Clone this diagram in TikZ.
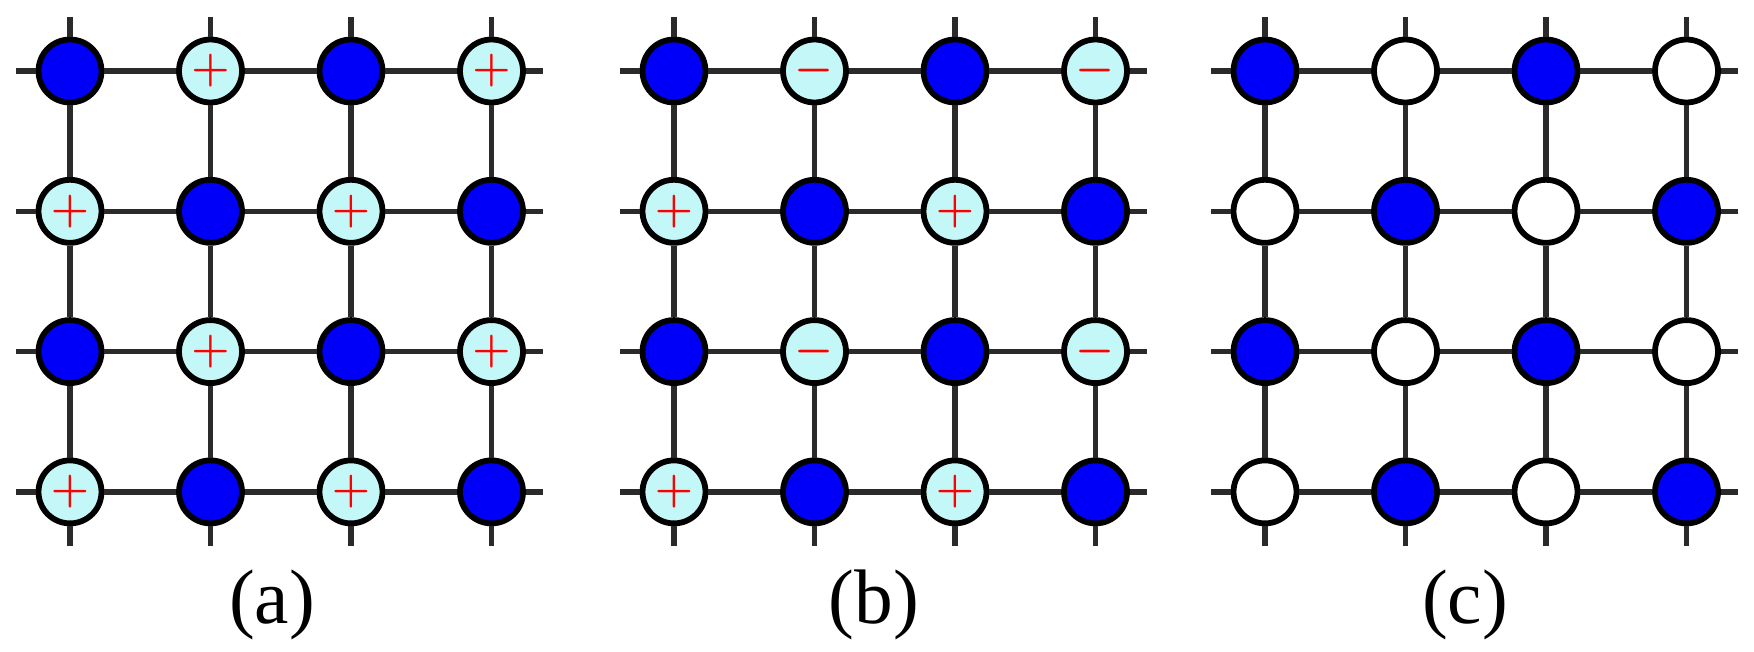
\documentclass[tikz,border=0pt]{standalone}
\usepackage{fontspec}
\setmainfont{Liberation Serif}
\definecolor{siteblue}{RGB}{0,0,250}
\definecolor{sitecyan}{RGB}{196,248,248}
\definecolor{bondgray}{RGB}{42,42,42}
\tikzset{
  site/.style={circle, draw=black, line width=3.3pt, minimum size=1.26cm, inner sep=0pt},
  fullsite/.style={site, fill=siteblue},
  emptysite/.style={site, fill=white},
  chargesite/.style={site, fill=sitecyan, text=red,
                     font=\fontsize{27}{27}\selectfont\boldmath},
  bond/.style={draw=bondgray, line width=3pt},
  caption/.style={font=\fontsize{44}{50}\selectfont}
}

\begin{document}
\begin{tikzpicture}[x=0.02cm, y=-0.02cm]
  \useasboundingbox (0,0) rectangle (1754,652);

  % lattice sites, one panel at a time
  \foreach \p/\x/\kind/\evensign/\oddsign in
      {a/70/chargesite/+/+, b/674/chargesite/-/+, c/1265/emptysite/{}/{}} {
    \foreach \i in {0,...,3} {
      \foreach \j in {0,...,3} {
        \pgfmathtruncatemacro{\odd}{mod(\i+\j,2)}
        \ifodd\j \def\sign{\oddsign}\else \def\sign{\evensign}\fi
        \ifnum\odd=0
          \node[fullsite] (\p-\i-\j) at ({\x+140.5*\i},{71+140.3*\j}) {};
        \else
          \node[\kind] (\p-\i-\j) at ({\x+140.5*\i},{71+140.3*\j}) {$\sign$};
        \fi
      }
      \coordinate (\p-w\i) at ({\x-54},{71+140.3*\i});
      \coordinate (\p-e\i) at ({\x+3*140.5+51},{71+140.3*\i});
      \coordinate (\p-n\i) at ({\x+140.5*\i},17);
      \coordinate (\p-s\i) at ({\x+140.5*\i},546);
    }
  }

  % bonds
  \foreach \p in {a,b,c} {
    \foreach \i in {0,...,3} {
      \foreach \j [count=\k] in {0,...,2} {
        \draw[bond] (\p-\j-\i) -- (\p-\k-\i);
        \draw[bond] (\p-\i-\j) -- (\p-\i-\k);
      }
      \draw[bond] (\p-w\i) -- (\p-0-\i);
      \draw[bond] (\p-3-\i) -- (\p-e\i);
      \draw[bond] (\p-n\i) -- (\p-\i-0);
      \draw[bond] (\p-\i-3) -- (\p-s\i);
    }
  }

  \node[caption] (capa) at (272,605) {(a)};
  \node[caption] (capb) at (874,605) {(b)};
  \node[caption] (capc) at (1465,605) {(c)};
\end{tikzpicture}
\end{document}
